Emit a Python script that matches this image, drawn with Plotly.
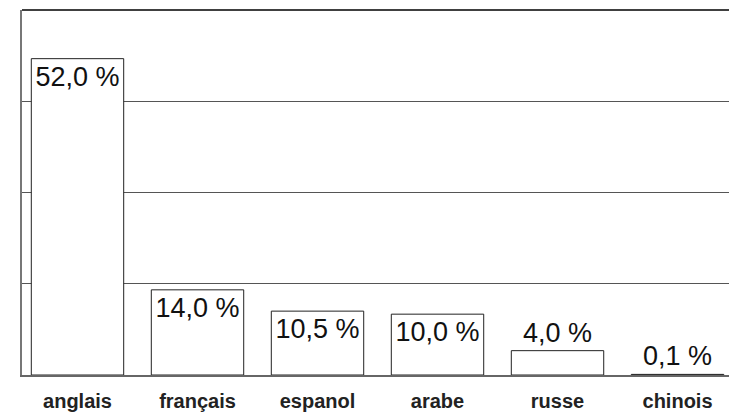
import plotly.graph_objects as go

categories = ["anglais", "français", "espanol", "arabe", "russe", "chinois"]
values = [52.0, 14.0, 10.5, 10.0, 4.0, 0.1]
positions = ["inside", "inside", "inside", "inside", "outside", "outside"]
y_ticks = [0, 15, 30, 45, 60]

labels = [f"{v:.1f}".replace(".", ",") + " %" for v in values]

fig = go.Figure(go.Bar(
    x=list(range(len(categories))),
    y=values,
    text=labels,
    textposition=positions,
    insidetextanchor="end",
    constraintext="none",
    cliponaxis=False,
    textfont=dict(family="Liberation Sans, Arial, sans-serif", size=27, color="#111"),
    marker=dict(color="white", line=dict(color="#222", width=1)),
    width=0.77,
    hoverinfo="skip",
))

fig.update_layout(
    width=729, height=412,
    margin=dict(l=22, r=0, t=10, b=37),
    paper_bgcolor="white", plot_bgcolor="white",
    showlegend=False,
    shapes=[dict(type="line", xref="paper", yref="paper", x0=0, x1=1, y0=1, y1=1,
                 line=dict(color="black", width=1.5))],
)
fig.update_xaxes(
    tickmode="array", tickvals=list(range(len(categories))), ticktext=categories,
    range=[-0.4625, 5.429], showgrid=False, zeroline=False,
    showline=True, linecolor="#666", linewidth=1.5, ticks="",
    ticklabelstandoff=7,
    tickfont=dict(family="Liberation Sans, Arial, sans-serif", size=20, color="#222", weight="bold"),
)
fig.update_yaxes(
    range=[0, 60], tickmode="array", tickvals=y_ticks, showticklabels=False,
    showgrid=True, gridcolor="#555", gridwidth=1, zeroline=False,
    showline=True, linecolor="#777", linewidth=1.5, ticks="",
)

fig.write_html("out.html", config={"displayModeBar": False},
               post_script="document.body.style.margin='0';")
